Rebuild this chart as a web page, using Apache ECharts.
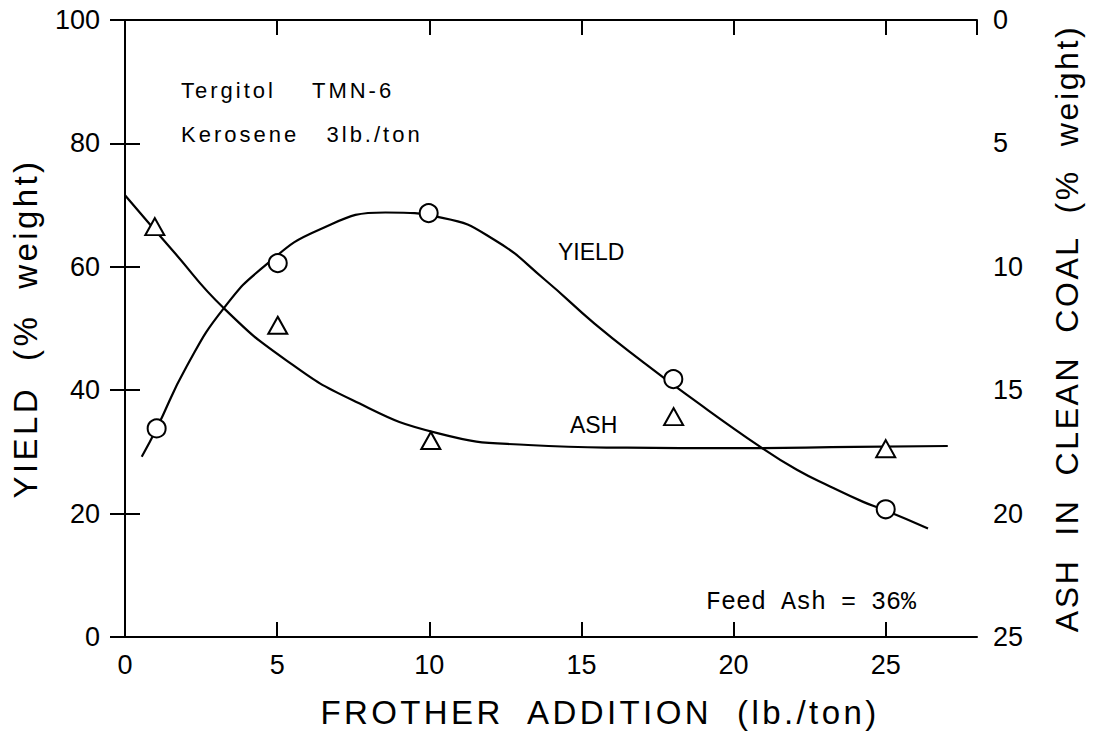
<!DOCTYPE html>
<html>
<head>
<meta charset="utf-8">
<title>Yield and ash vs frother addition</title>
<script src="https://cdn.jsdelivr.net/npm/echarts@6.0.0/dist/echarts.min.js"></script>
<style>
html,body{margin:0;padding:0;background:#fff;}
#chart{width:1094px;height:735px;}
/* the old stencil lettering is spaced out, svg text takes css letter-spacing */
#chart text[style*="33px"]{letter-spacing:3.4px;}
#chart text[style*="32px"]{letter-spacing:2.6px;}
#chart text[style*="22px"]{letter-spacing:3px;}
</style>
</head>
<body>
<div id="chart"></div>
<script>
// measured points (x = frother lb/ton)
var yieldPoints = [[1.04, 33.8], [5.02, 60.6], [9.98, 68.7], [18.02, 41.8], [25, 20.7]];
var ashPoints = [[0.98, 8.37], [5.02, 12.37], [10.05, 17.04], [18.03, 16.07], [25, 17.37]];

// hand drawn curves
var yieldCurve = [[0.55, 29.2], [1.04, 33.8], [2.02, 43.8], [3.25, 53.3], [4.63, 60.3], [6.38, 66.0],
  [8.56, 68.8], [10.47, 67.9], [12.16, 64.3], [13.8, 57.9], [15.43, 50.8], [17.07, 44.4],
  [18.48, 39.2], [20.94, 30.6], [22.08, 27.1], [23.17, 24.4], [24.26, 21.9], [25, 20.5], [26.39, 17.6]];
var ashCurve = [[0, 7.1], [1.58, 9.36], [3.25, 11.68], [5.29, 13.78], [7.47, 15.4], [10.3, 16.75],
  [13.25, 17.22], [16.5, 17.33], [20, 17.35], [24, 17.3], [27.04, 17.26]];

var black = '#000';
var tickFont = 'Liberation Sans';

var myChart = echarts.init(document.getElementById('chart'), null, {renderer: 'svg'});
myChart.setOption({
  animation: false,
  backgroundColor: '#fff',
  grid: {left: 125, right: 117, top: 20, bottom: 98},
  xAxis: [
    {
      type: 'value', position: 'bottom', min: 0, max: 28, interval: 5,
      axisLine: {show: true, lineStyle: {color: black, width: 2}},
      axisTick: {show: true, inside: true, length: 15, lineStyle: {color: black, width: 2}},
      axisLabel: {margin: 14, color: black, fontSize: 27, fontFamily: tickFont, showMaxLabel: false},
      splitLine: {show: false},
      name: 'FROTHER  ADDITION  (lb./ton)', nameLocation: 'middle', nameGap: 59,
      nameTextStyle: {color: black, fontSize: 33, fontFamily: 'Liberation Sans', padding: [0, 0, 0, 98]}
    },
    {
      type: 'value', position: 'top', min: 0, max: 28, interval: 5,
      axisLine: {show: true, lineStyle: {color: black, width: 2}},
      axisTick: {show: true, inside: true, length: 15, lineStyle: {color: black, width: 2}},
      axisLabel: {show: false},
      splitLine: {show: false}
    }
  ],
  yAxis: [
    {
      type: 'value', position: 'left', min: 0, max: 100, interval: 20,
      axisLine: {show: true, lineStyle: {color: black, width: 2}},
      axisTick: {show: true, inside: true, length: 15, lineStyle: {color: black, width: 2}},
      axisLabel: {margin: 25, color: black, fontSize: 27, fontFamily: tickFont},
      splitLine: {show: false},
      name: 'YIELD  (%  weight)', nameLocation: 'middle', nameGap: 83, nameRotate: 90,
      nameTextStyle: {color: black, fontSize: 33, fontFamily: 'Liberation Sans'}
    },
    {
      type: 'value', position: 'right', min: 0, max: 25, interval: 5, inverse: true,
      axisLine: {show: true, lineStyle: {color: black, width: 2}},
      axisTick: {show: true, inside: true, length: 15, lineStyle: {color: black, width: 2}},
      axisLabel: {margin: 16, color: black, fontSize: 27, fontFamily: tickFont},
      splitLine: {show: false},
      name: 'ASH  IN  CLEAN  COAL  (%  weight)', nameLocation: 'middle', nameGap: 74, nameRotate: 90,
      nameTextStyle: {color: black, fontSize: 32, fontFamily: 'Liberation Sans'}
    }
  ],
  series: [
    {
      name: 'yield curve', type: 'line', xAxisIndex: 0, yAxisIndex: 0,
      data: yieldCurve, smooth: 0.5, showSymbol: false,
      lineStyle: {color: black, width: 2.2}
    },
    {
      name: 'ash curve', type: 'line', xAxisIndex: 0, yAxisIndex: 1,
      data: ashCurve, smooth: 0.5, showSymbol: false,
      lineStyle: {color: black, width: 2.2}
    },
    {
      name: 'yield', type: 'scatter', xAxisIndex: 0, yAxisIndex: 0, z: 5,
      data: yieldPoints, symbol: 'circle', symbolSize: 18,
      itemStyle: {color: '#fff', borderColor: black, borderWidth: 2, opacity: 1}
    },
    {
      name: 'ash', type: 'scatter', xAxisIndex: 0, yAxisIndex: 1, z: 5,
      data: ashPoints, symbol: 'triangle', symbolSize: [19, 17],
      itemStyle: {color: '#fff', borderColor: black, borderWidth: 2, opacity: 1}
    }
  ],
  graphic: [
    {type: 'text', left: 181, top: 79, style: {text: 'Tergitol    TMN-6', font: '22px Liberation Sans', fill: black}},
    {type: 'text', left: 181, top: 123, style: {text: 'Kerosene   3lb./ton', font: '22px Liberation Sans', fill: black}},
    {type: 'text', left: 558, top: 240, style: {text: 'YIELD', font: '23px Liberation Sans', fill: black}},
    {type: 'text', left: 570, top: 413, style: {text: 'ASH', font: '23px Liberation Sans', fill: black}},
    {type: 'text', left: 706, top: 590, style: {text: 'Feed Ash = 36%', font: '25px Liberation Mono', fill: black}}
  ]
});
</script>
</body>
</html>
